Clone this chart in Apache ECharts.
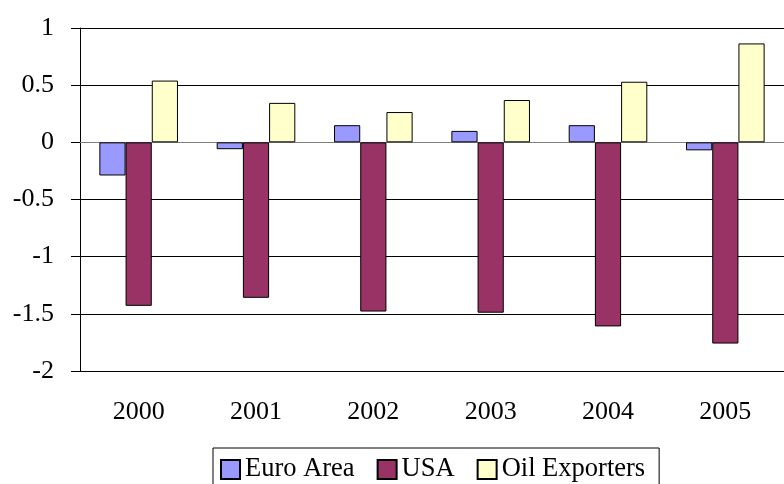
<!DOCTYPE html>
<html>
<head>
    <meta charset="utf-8">
    <title>Chart</title>
    <script src="https://cdn.jsdelivr.net/npm/echarts@6/dist/echarts.min.js"></script>
    <style>
        html, body { margin: 0; padding: 0; background: #fff; }
        #chart1 { width: 784px; height: 484px; }
    </style>
</head>
<body>
<div id="chart1"></div>
<script type="text/javascript">
    // 数据
    var years = ['2000', '2001', '2002', '2003', '2004', '2005'];
    var euroArea = [-0.29, -0.06, 0.15, 0.10, 0.15, -0.07];
    var usa = [-1.43, -1.36, -1.48, -1.49, -1.61, -1.76];
    var oilExporters = [0.54, 0.345, 0.265, 0.37, 0.53, 0.865];

    var font = "'Liberation Serif', 'Times New Roman', serif";

    function barSeries(name, data, color) {
        return {
            name: name,
            type: 'bar',
            data: data,
            barGap: '0%',
            barCategoryGap: '33%',
            itemStyle: {color: color, borderColor: '#000', borderWidth: 1}
        };
    }

    var myChart1 = echarts.init(document.getElementById('chart1'));
    myChart1.setOption({
        animation: false,
        backgroundColor: '#fff',
        textStyle: {fontFamily: font},
        grid: {left: 80, top: 28, width: 717, height: 343},
        legend: {
            left: 213,
            top: 448,
            padding: [8, 14, 8, 7],
            borderColor: '#000',
            borderWidth: 1,
            itemGap: 22,
            itemWidth: 19,
            itemHeight: 19,
            icon: 'rect',
            textStyle: {fontFamily: font, fontSize: 26.5, color: '#000'},
            data: ['Euro Area', 'USA', 'Oil Exporters']
        },
        xAxis: [
            {
                // 底部年份标签
                type: 'category',
                data: years,
                position: 'bottom',
                axisLine: {show: false, onZero: false},
                axisTick: {show: false},
                axisLabel: {margin: 28, fontFamily: font, fontSize: 26, color: '#000'}
            },
            {
                // 零线和刻度
                type: 'category',
                data: years,
                position: 'bottom',
                axisLine: {onZero: true, lineStyle: {color: '#808080', width: 1}},
                axisTick: {length: 9, lineStyle: {color: '#000'}},
                axisLabel: {show: false}
            }
        ],
        yAxis: {
            type: 'value',
            min: -2,
            max: 1,
            interval: 0.5,
            axisLine: {show: true, lineStyle: {color: '#000'}},
            axisTick: {show: true, length: 9, lineStyle: {color: '#000'}},
            axisLabel: {margin: 26, fontFamily: font, fontSize: 26, color: '#000'},
            splitLine: {lineStyle: {color: '#000', width: 1}}
        },
        series: [
            barSeries('Euro Area', euroArea, '#9999ff'),
            barSeries('USA', usa, '#993366'),
            barSeries('Oil Exporters', oilExporters, '#ffffcc')
        ]
    });
</script>
</body>
</html>
